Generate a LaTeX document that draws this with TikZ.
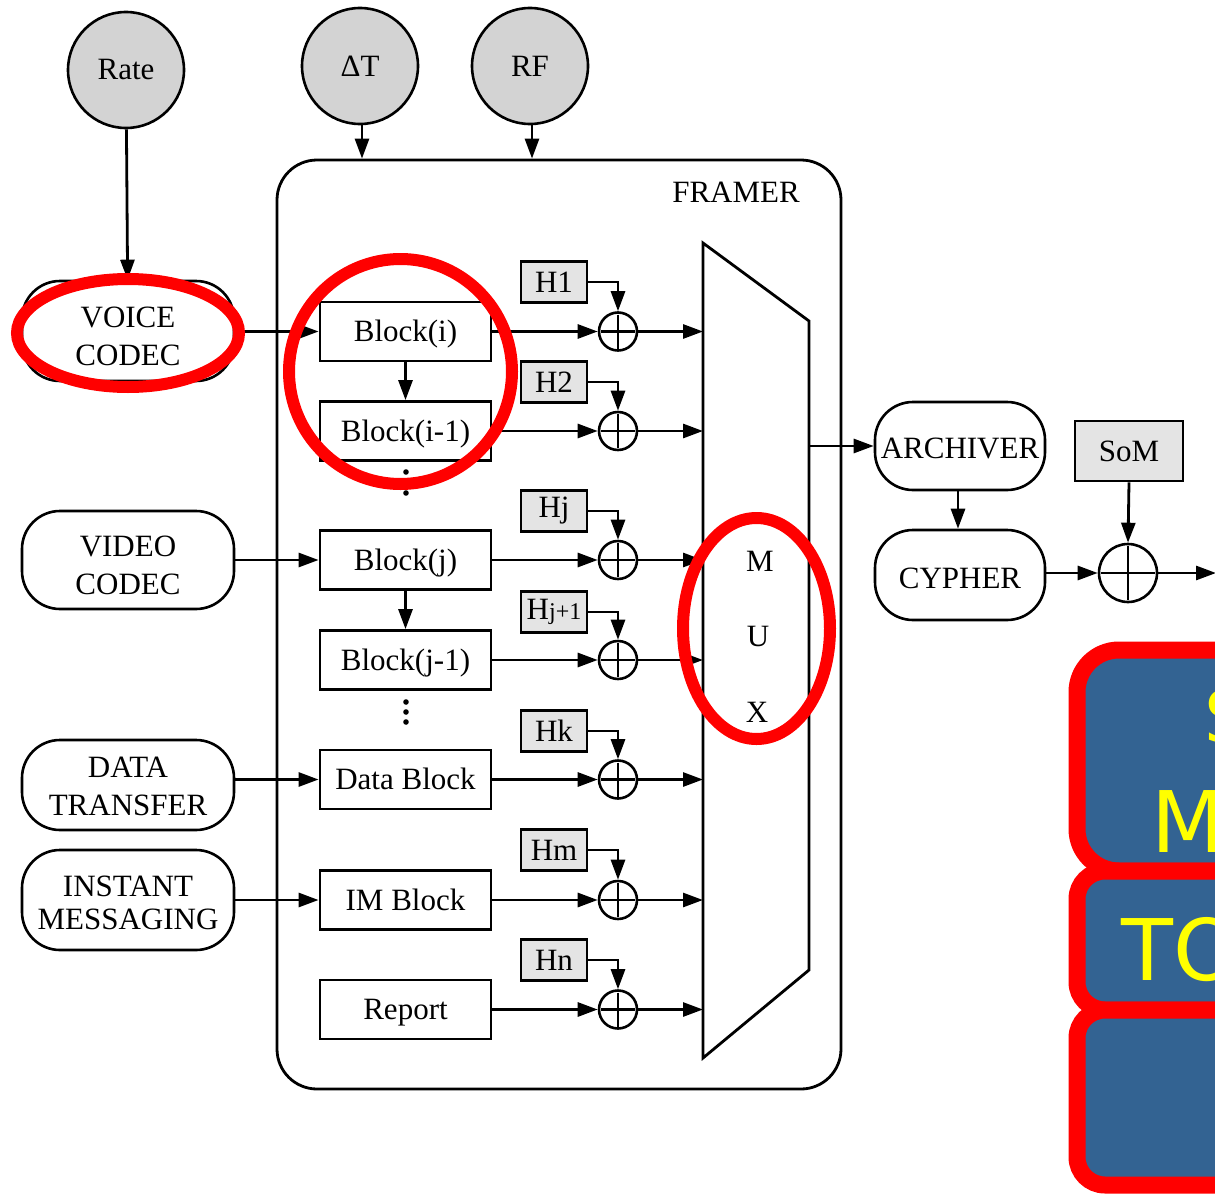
\documentclass[tikz,border=0pt]{standalone}
\usepackage{fontspec}
\setmainfont{Liberation Serif}
\newfontfamily\dejavu{DejaVu Sans}
\usetikzlibrary{arrows.meta}
\definecolor{circgray}{RGB}{211,211,211}
\definecolor{hgray}{RGB}{228,228,228}
\definecolor{boxblue}{RGB}{51,99,146}
\definecolor{annred}{RGB}{255,0,0}
\definecolor{txtyellow}{RGB}{255,255,0}
\newcommand\mainsz{\fontsize{31}{36}\selectfont}
\newcommand\subsz{\fontsize{24}{28}\selectfont}
\begin{document}
\begin{tikzpicture}[x=1pt,y=-1pt,
  every node/.style={font=\mainsz},
  arr/.style={line width=2.8pt,-{Triangle[length=20pt,width=14pt]}},
  param/.style={circle,draw,line width=2.6pt,fill=circgray,minimum size=116pt,inner sep=0},
  srcbox/.style={draw,line width=2.6pt,rounded corners=38pt,minimum width=212pt,minimum height=96pt,align=center,inner sep=0},
  srclbl/.style={align=center,yshift=-5pt},
  blk/.style={draw,line width=2.8pt,minimum width=171pt,minimum height=59pt,inner sep=0,text height=22pt,text depth=1.5pt},
  hbox/.style={draw,line width=2.6pt,fill=hgray,minimum width=66pt,minimum height=41pt,inner sep=0},
  adder/.style={circle,draw,line width=2.6pt,minimum size=38pt,inner sep=0,
    path picture={\draw[line width=2.6pt,shorten >=2pt,shorten <=2pt] (path picture bounding box.north) -- (path picture bounding box.south);
                  \draw[line width=2.6pt,shorten >=2pt,shorten <=2pt] (path picture bounding box.west) -- (path picture bounding box.east);}},
  annot/.style={draw=annred,line width=12pt},
  bluebox/.style={draw=annred,line width=17pt,fill=boxblue},
  bigtext/.style={anchor=base west,inner sep=0,text=txtyellow}
]
\useasboundingbox (0,0) rectangle (1215,1199);
\clip (0,0) rectangle (1215,1199);
\fill[white] (0,0) rectangle (1215,1199);

% parameters
\node[param] (rate) at (126,70) {Rate};
\node[param] (dt) at (360,66) {ΔT};
\node[param] (rf) at (530,66) {RF};

% framer
\node[draw,line width=2.8pt,rounded corners=40pt,minimum width=564pt,minimum height=929pt,inner sep=0] (framer) at (559,624.5) {};
\node (framerlbl) at (736,192) {FRAMER};
\draw[arr] (dt.south) ++(2,0) coordinate (dts) -- (dts |- framer.north);
\draw[arr] (rf.south) ++(2,0) coordinate (rfs) -- (rfs |- framer.north);

% sources
\node[srcbox,minimum height=100pt,label={[srclbl]center:VOICE\\[2pt]CODEC}] (voice) at (128,331) {};
\node[srcbox,minimum height=98pt,label={[srclbl]center:VIDEO\\[2pt]CODEC}] (video) at (128,560) {};
\node[srcbox,minimum height=90pt,label={[srclbl,yshift=4pt]center:DATA\\[2pt]TRANSFER}] (data) at (128,785) {};
\node[srcbox,minimum height=100pt,label={[srclbl,yshift=2pt]center:INSTANT\\[-3pt]MESSAGING}] (inst) at (128,900) {};
\draw[arr] (rate) -- (voice);

% blocks
\node[blk] (bi) at (405.5,331.5) {Block(i)};
\node[blk] (bi1) at (405.5,431) {Block(i-1)};
\node[blk] (bj) at (405.5,560) {Block(j)};
\node[blk] (bj1) at (405.5,660) {Block(j-1)};
\node[blk] (bd) at (405.5,779.5) {Data Block};
\node[blk] (bim) at (405.5,900) {IM Block};
\node[blk] (brep) at (405.5,1009.5) {Report};
\draw[arr] (bi) -- (bi1);
\draw[arr] (bj) -- (bj1);
\foreach \y in {472,482.5,493} {\fill (406,\y) circle (2.8pt);}
\foreach \y in {702,712,722} {\fill (406,\y) circle (2.8pt);}

\draw[arr] (voice.east |- bi.west) -- (bi.west);
\draw[arr] (video.east |- bj.west) -- (bj.west);
\draw[arr] (data.east |- bd.west) -- (bd.west);
\draw[arr] (inst.east |- bim.west) -- (bim.west);

% adders and headers
\coordinate (muxL) at (703,600);
\foreach \n/\b/\y/\hy/\lbl in {a1/bi/331.5/282/{H1},a2/bi1/431/382/{H2},a3/bj/560/511/{Hj},a4/bj1/660/612/{H{\subsz j+1}},a5/bd/779.5/731/{Hk},a6/bim/900/850/{Hm},a7/brep/1009.5/960/{Hn}} {
  \node[adder] (\n) at (618,\y) {};
  \node[hbox] (h\n) at (554,\hy) {\lbl};
  \draw[arr] (\b.east) -- (\n.west);
  \draw[arr] (h\n.east) -| (\n.north);
  \draw[arr] (\n.east) -- (\n.east -| muxL);
}

% mux
\draw[line width=2.8pt,line join=miter] (703,243) -- (809,321) -- (809,970) -- (703,1058) -- cycle;
\node (mm) at (760,561) {M};
\node (mu) at (758,636) {U};
\node (mx) at (757,712) {X};
\coordinate (muxout) at (809,446);

% right side
\node[srcbox,minimum width=170pt,minimum height=88pt,label={[yshift=-2pt]center:ARCHIVER}] (arch) at (960,446) {};
\node[srcbox,minimum width=170pt,minimum height=90pt,label={[yshift=-3pt]center:CYPHER}] (cyph) at (960,575) {};
\node[hbox,minimum width=108pt,minimum height=60pt] (som) at (1129,451) {SoM};
\node[adder,minimum size=58pt] (bigadd) at (1128,573) {};
\coordinate (outend) at (1216,573);
\draw[arr] (muxout) -- (arch.west |- muxout);
\draw[arr] (arch.south -| 958,0) -- (cyph.north -| 958,0);
\draw[arr] (cyph.east |- bigadd.west) -- (bigadd.west);
\draw[arr] (som.south) -- (bigadd.north);
\draw[arr] (bigadd.east) -- (outend);

% red annotations
\draw[annot] (128,333) ellipse [x radius=111pt, y radius=54pt];
\draw[annot] (400.5,371.5) ellipse [x radius=111.5pt, y radius=112.5pt];
\draw[annot] (756.5,628.5) ellipse [x radius=73.5pt, y radius=110.5pt];

% blue boxes
\draw[bluebox,rounded corners=42pt] (1077,650) rectangle (1320,871);
\draw[bluebox,rounded corners=28pt] (1077,871) rectangle (1320,1010);
\draw[bluebox,rounded corners=28pt] (1077,1010) rectangle (1320,1185);
\node[bigtext,font=\dejavu\fontsize{72}{80}\selectfont] (ts) at (1204,742) {S};
\node[bigtext,font=\dejavu\fontsize{85}{95}\selectfont] (tm) at (1151,852) {M};
\node[bigtext,font=\dejavu\fontsize{85}{95}\selectfont] (tto) at (1121,980) {TO};
\end{tikzpicture}
\end{document}
